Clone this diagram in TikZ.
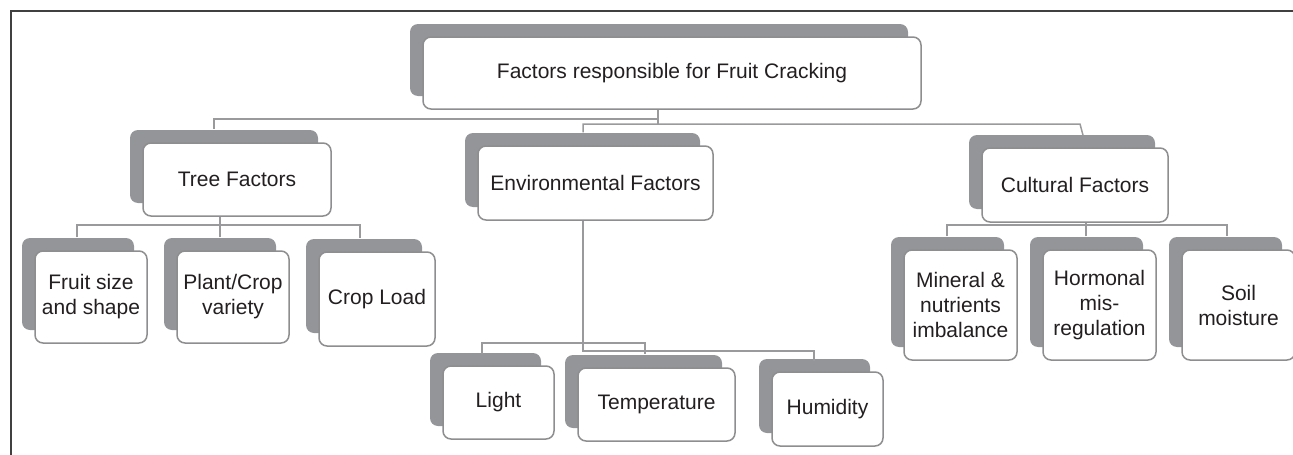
\documentclass[tikz,border=0pt]{standalone}
\usepackage{fontspec}
\setmainfont{Liberation Sans}
\usetikzlibrary{shadows}
\definecolor{shgray}{HTML}{939598}
\definecolor{bordergray}{HTML}{8E8E90}
\definecolor{linegray}{HTML}{9A9A9C}
\definecolor{txt}{HTML}{231F20}
\definecolor{framecol}{HTML}{404040}
\begin{document}
\begin{tikzpicture}[x=1pt,y=-1pt,
  sbox/.style={draw=bordergray, line width=1.5pt, fill=white, rounded corners=8pt,
    align=center, text=txt, font=\fontsize{21}{25}\selectfont, inner sep=2pt,
    drop shadow={shadow xshift=-13pt, shadow yshift=13pt, fill=shgray, opacity=1}},
  conn/.style={draw=linegray, line width=1.5pt},
  framestyle/.style={draw=framecol, line width=1.2pt}
]
\useasboundingbox (0,0) rectangle (1293,455);
\clip (0,0) rectangle (1293,455);

\coordinate (busA) at (658,119);
\coordinate (busB) at (658,124);
\coordinate (busC) at (1080,124);
\coordinate (tbus) at (220,225);
\coordinate (ebusA) at (583,343);
\coordinate (ebusB) at (583,351);
\coordinate (cbus) at (1086,225);

% nodes
\node[sbox, minimum width=498pt, minimum height=72pt] (root) at (672,73) {Factors responsible for Fruit Cracking};

\node[sbox, minimum width=188pt, minimum height=73pt] (tree) at (237,179.5) {Tree Factors};
\node[sbox, minimum width=235pt, minimum height=74pt] (env) at (595.5,183) {Environmental Factors};
\node[sbox, minimum width=186pt, minimum height=74pt] (cult) at (1075,185) {Cultural Factors};

\node[sbox, minimum width=112pt, minimum height=92pt] (fruit) at (91,297) {Fruit size\\and shape};
\node[sbox, minimum width=112pt, minimum height=92pt] (plant) at (233,297) {Plant/Crop\\variety};
\node[sbox, minimum width=116pt, minimum height=94pt] (crop) at (377,299) {Crop Load};

\node[sbox, minimum width=111pt, minimum height=73pt] (light) at (498.5,402.5) {Light};
\node[sbox, minimum width=157pt, minimum height=73pt] (temp) at (656.5,404.5) {Temperature};
\node[sbox, minimum width=111pt, minimum height=74pt] (humid) at (827.5,409) {Humidity};

\node[sbox, minimum width=113pt, minimum height=110pt] (mineral) at (960.5,305) {Mineral \&\\nutrients\\imbalance};
\node[sbox, minimum width=113pt, minimum height=110pt] (hormonal) at (1099.5,305) {Hormonal\\mis-\\regulation};
\node[sbox, minimum width=113pt, minimum height=110pt] (soil) at (1238.5,305) {Soil\\moisture};

% root connectors
\draw[conn] ([xshift=-14pt]root.south) -- (busB);
\draw[conn] (busA) -| ([xshift=-23pt,yshift=13pt]tree.north);
\draw[conn] ([xshift=-12.5pt,yshift=13pt]env.north) |- (busB) -- (busC) -- ([xshift=8pt,yshift=12pt]cult.north);

% tree factor connectors
\draw[conn] ([xshift=-17pt]tree.south) -- (tbus);
\draw[conn] ([xshift=-14pt,yshift=13pt]fruit.north) |- (tbus) -| ([xshift=-17pt,yshift=13pt]crop.north);
\draw[conn] ([xshift=-13pt,yshift=13pt]plant.north) -- (tbus);

% environmental connectors
\draw[conn] ([xshift=-12.5pt]env.south) -- (ebusB) -| ([xshift=-13.5pt,yshift=10pt]humid.north);
\draw[conn] ([xshift=-16.5pt,yshift=11pt]light.north) |- (ebusA) -| ([xshift=-11.5pt,yshift=13pt]temp.north);

% cultural connectors
\draw[conn] ([xshift=11pt]cult.south) -- (cbus);
\draw[conn] ([xshift=-13.5pt,yshift=13pt]mineral.north) |- (cbus) -| ([xshift=-11.5pt,yshift=13pt]soil.north);
\draw[conn] ([xshift=-13.5pt,yshift=13pt]hormonal.north) -- (cbus);

% frame
\draw[framestyle] (11,455) -- (11,11) -- (1293,11);
\end{tikzpicture}
\end{document}
